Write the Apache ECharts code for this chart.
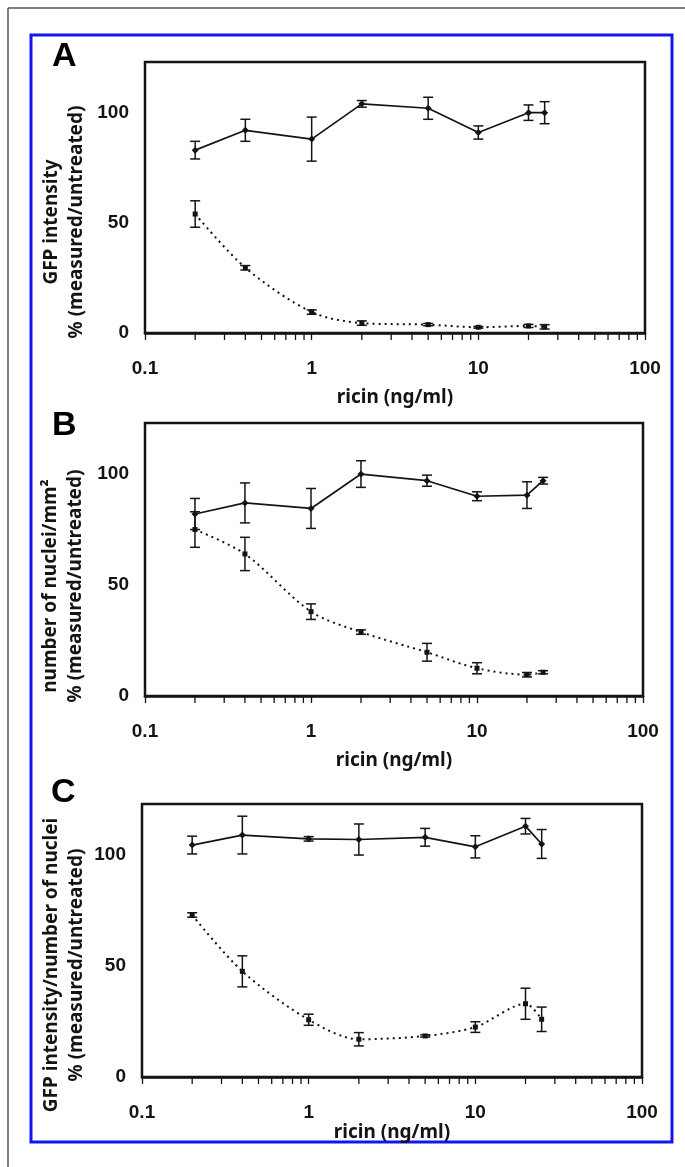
<!DOCTYPE html>
<html>
<head>
<meta charset="utf-8">
<script src="https://cdn.jsdelivr.net/npm/echarts@6/dist/echarts.min.js"></script>
<style>
  html, body { margin: 0; padding: 0; background: #fff; }
  #main { width: 685px; height: 1167px; }
</style>
</head>
<body>
<div id="main"></div>
<script>
// ricin doses (ng/ml)
var doses = [0.2, 0.4, 1, 2, 5, 10, 20, 25];
var xTicks = [0.1, 1, 10, 100];
var minorTicks = [0.2, 0.3, 0.4, 0.5, 0.6, 0.7, 0.8, 0.9, 2, 3, 4, 5, 6, 7, 8, 9, 20, 30, 40, 50, 60, 70, 80, 90];
var yTicks = [0, 50, 100];

// panel A: GFP intensity
var aSolid = [83, 92, 88, 104, 102, 91, 100, 100];
var aSolidErr = [4, 5, 10, 1.5, 5, 3, 3.5, 5];
var aDotted = [54, 29.6, 9.5, 4.5, 3.8, 2.6, 3.2, 2.8];
var aDottedErr = [6, 1, 1, 1, 0.5, 0.4, 0.7, 1];

// panel B: number of nuclei
var bSolid = [82, 87, 84.5, 100, 97, 90, 90.5, 97];
var bSolidErr = [7, 9, 9, 6, 2.5, 2, 6, 1.5];
var bDotted = [75, 64, 38, 28.8, 19.7, 12.5, 9.6, 10.7];
var bDottedErr = [8, 7.5, 3.5, 1, 4, 2.5, 1, 0.7];

// panel C: GFP intensity / number of nuclei
var cSolid = [104.5, 109, 107.3, 107, 108, 103.7, 113, 105];
var cSolidErr = [4, 8.5, 1, 7, 4, 5, 3.5, 6.5];
var cDotted = [73, 47.6, 25.8, 17, 18.5, 22.5, 33, 26];
var cDottedErr = [1, 7, 2.5, 3, 0.5, 2.4, 7, 5.5];

var yMax = 123;
var ink = '#141414';

var grids = [
  { left: 145, right: 40, top: 62, height: 271 },
  { left: 145, right: 42, top: 423, height: 273 },
  { left: 142, right: 43, top: 804, height: 273 }
];
var nameGaps = [55, 55, 45];

function pairs(ys, errs) {
  return doses.map(function (d, i) {
    return errs ? [d, ys[i], errs[i]] : [d, ys[i]];
  });
}

function errorBar(params, api) {
  var x = api.value(0), y = api.value(1), e = api.value(2);
  var hi = api.coord([x, y + e]);
  var lo = api.coord([x, y - e]);
  var w = 5;
  var st = { stroke: ink, lineWidth: 1.5 };
  return {
    type: 'group',
    children: [
      { type: 'line', shape: { x1: hi[0], y1: hi[1], x2: lo[0], y2: lo[1] }, style: st },
      { type: 'line', shape: { x1: hi[0] - w, y1: hi[1], x2: hi[0] + w, y2: hi[1] }, style: st },
      { type: 'line', shape: { x1: lo[0] - w, y1: lo[1], x2: lo[0] + w, y2: lo[1] }, style: st }
    ]
  };
}

function minorTick(params, api) {
  var p = api.coord([api.value(0), 0]);
  return {
    type: 'line',
    shape: { x1: p[0], y1: p[1], x2: p[0], y2: p[1] + 7 },
    style: { stroke: ink, lineWidth: 1.3 }
  };
}

var panels = [
  [aSolid, aSolidErr, aDotted, aDottedErr],
  [bSolid, bSolidErr, bDotted, bDottedErr],
  [cSolid, cSolidErr, cDotted, cDottedErr]
];

var xAxes = [], yAxes = [], series = [];
panels.forEach(function (p, i) {
  xAxes.push({
    gridIndex: i,
    type: 'log',
    logBase: 10,
    min: xTicks[0],
    max: xTicks[xTicks.length - 1],
    name: 'ricin (ng/ml)',
    nameLocation: 'middle',
    nameGap: nameGaps[i],
    nameTextStyle: { fontFamily: 'Noto Sans', fontWeight: 'bold', fontSize: 19, color: ink },
    axisLine: { show: true, lineStyle: { color: ink, width: 2.5 } },
    axisTick: { show: true, length: 7, lineStyle: { color: ink, width: 1.3 } },
    axisLabel: {
      margin: 26,
      fontFamily: 'Liberation Sans',
      fontWeight: 'bold',
      fontSize: 19,
      color: ink,
      formatter: function (v) { return String(+(+v).toPrecision(3)); }
    },
    splitLine: { show: false }
  });
  yAxes.push({
    gridIndex: i,
    type: 'value',
    min: 0,
    max: yMax,
    interval: 50,
    axisLine: { show: false },
    axisTick: { show: false },
    splitLine: { show: false },
    axisLabel: {
      margin: 16,
      fontFamily: 'Liberation Sans',
      fontWeight: 'bold',
      fontSize: 19,
      color: ink,
      formatter: function (v) { return yTicks.indexOf(v) >= 0 ? String(v) : ''; }
    }
  });
  series.push({
    type: 'line',
    xAxisIndex: i, yAxisIndex: i,
    data: pairs(p[0]),
    symbol: 'diamond',
    symbolSize: 7,
    itemStyle: { color: ink },
    lineStyle: { color: ink, width: 1.7 },
    animation: false,
    z: 3
  });
  series.push({
    type: 'line',
    xAxisIndex: i, yAxisIndex: i,
    data: pairs(p[2]),
    smooth: 0.3,
    symbol: 'rect',
    symbolSize: 5,
    itemStyle: { color: ink },
    lineStyle: { color: ink, width: 2, type: [2, 4] },
    animation: false,
    z: 3
  });
  series.push({
    type: 'custom',
    xAxisIndex: i, yAxisIndex: i,
    data: pairs(p[0], p[1]),
    renderItem: errorBar,
    animation: false,
    z: 4
  });
  series.push({
    type: 'custom',
    xAxisIndex: i, yAxisIndex: i,
    data: pairs(p[2], p[3]),
    renderItem: errorBar,
    animation: false,
    z: 4
  });
  series.push({
    type: 'custom',
    xAxisIndex: i, yAxisIndex: i,
    data: minorTicks.map(function (t) { return [t, 0]; }),
    renderItem: minorTick,
    clip: false,
    silent: true,
    animation: false
  });
});

var titleFont = { fontFamily: 'Noto Sans', fontWeight: 'bold', fontSize: 19, fill: ink, align: 'center', verticalAlign: 'middle', lineHeight: 25 };
function yTitle(text, x, y) {
  return { type: 'text', x: x, y: y, rotation: Math.PI / 2, style: Object.assign({ text: text }, titleFont) };
}
function letter(text, x, y) {
  return { type: 'text', x: x, y: y, style: { text: text, fontFamily: 'Liberation Sans', fontWeight: 'bold', fontSize: 34, fill: '#000', align: 'left', verticalAlign: 'top' } };
}

var chart = echarts.init(document.getElementById('main'), null, { renderer: 'canvas' });
chart.setOption({
  backgroundColor: '#fff',
  animation: false,
  grid: grids.map(function (g) {
    return Object.assign({ show: true, borderColor: ink, borderWidth: 2.5, backgroundColor: 'transparent' }, g);
  }),
  xAxis: xAxes,
  yAxis: yAxes,
  series: series,
  graphic: [
    { type: 'line', shape: { x1: 8, y1: 8, x2: 685, y2: 8 }, style: { stroke: '#555', lineWidth: 1.5 } },
    { type: 'line', shape: { x1: 8, y1: 8, x2: 8, y2: 1167 }, style: { stroke: '#555', lineWidth: 1.5 } },
    { type: 'rect', shape: { x: 31, y: 35, width: 641, height: 1107 }, style: { fill: 'none', stroke: '#1414f0', lineWidth: 3 } },
    letter('A', 52, 40),
    letter('B', 52, 409),
    letter('C', 51, 776),
    yTitle('GFP intensity\n% (measured/untreated)', 64, 222),
    yTitle('number of nuclei/mm²\n% (measured/untreated)', 63, 586),
    yTitle('GFP intensity/number of nuclei\n% (measured/untreated)', 64, 965)
  ]
});
</script>
</body>
</html>
